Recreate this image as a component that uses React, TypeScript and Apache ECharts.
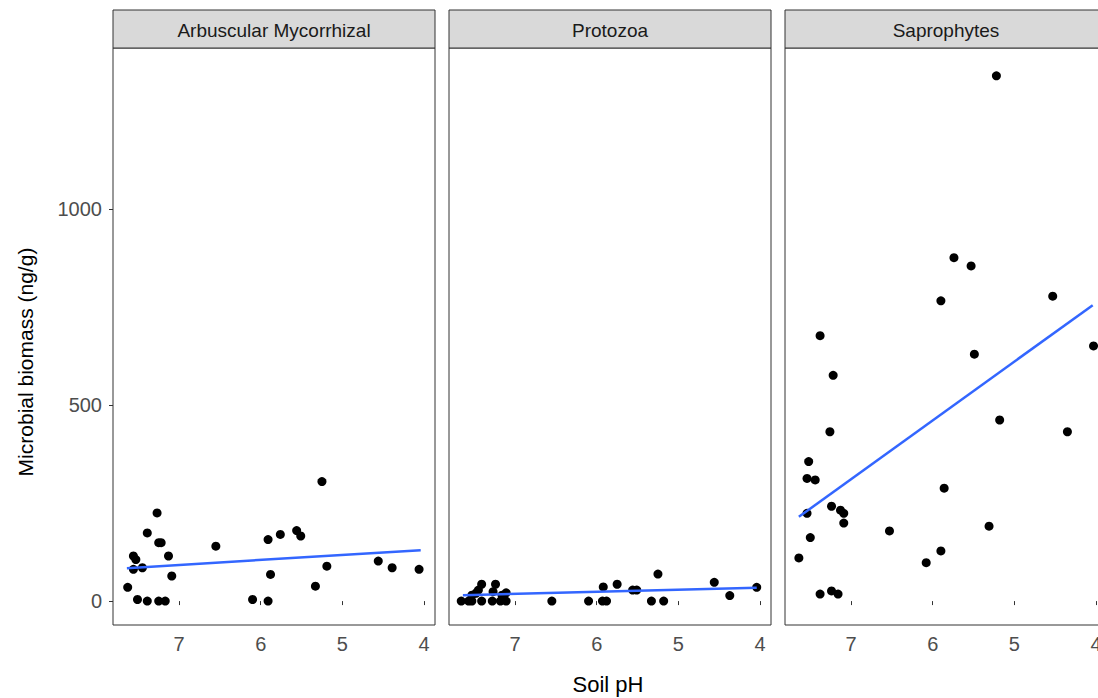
import React, { useEffect, useRef } from "react";
import * as echarts from "echarts";

const panelTitles = ["Arbuscular Mycorrhizal", "Protozoa", "Saprophytes"];

const phAM = [7.63, 7.56, 7.53, 7.56, 7.45, 7.51, 7.39, 7.39, 7.27, 7.25, 7.22, 7.25, 7.17, 7.13, 7.09, 6.55, 6.10, 5.91, 5.88, 5.91, 5.76, 5.56, 5.51, 5.25, 5.33, 5.19, 4.56, 4.39, 4.06];
const amVals = [35, 115, 106, 81, 85, 4, 0, 174, 225, 149, 149, 0, 0, 115, 64, 140, 4, 157, 68, 0, 170, 180, 166, 305, 38, 89, 102, 85, 81];

const phPro = [7.66, 7.57, 7.53, 7.53, 7.48, 7.45, 7.41, 7.41, 7.28, 7.27, 7.24, 7.18, 7.16, 7.11, 7.11, 6.55, 6.10, 5.93, 5.88, 5.92, 5.75, 5.56, 5.51, 5.33, 5.25, 5.18, 4.56, 4.37, 4.04];
const proVals = [0, 0, 0, 15, 20, 28, 43, 0, 0, 24, 43, 0, 15, 21, 0, 0, 0, 0, 0, 36, 43, 28, 28, 0, 69, 0, 48, 14, 35];

const phSap = [7.64, 7.50, 7.54, 7.54, 7.52, 7.44, 7.38, 7.38, 7.26, 7.24, 7.24, 7.22, 7.16, 7.13, 7.09, 7.09, 6.53, 6.08, 5.90, 5.90, 5.86, 5.74, 5.53, 5.49, 5.31, 5.18, 4.53, 4.35, 4.03, 5.22];
const sapVals = [110, 162, 224, 313, 356, 309, 677, 18, 432, 242, 26, 576, 18, 232, 224, 199, 179, 98, 128, 766, 288, 876, 855, 630, 191, 462, 778, 432, 651, 1340];

const trendPh = [7.64, 4.04];
const trendAM = [84, 130];
const trendPro = [15, 34];
const trendSap = [215, 755];

const xTicks = [4, 5, 6, 7];
const yTicks = [0, 500, 1000];

const xTitle = "Soil pH";
const yTitle = "Microbial biomass (ng/g)";

export default function App() {
  const ref = useRef<HTMLDivElement>(null);
  useEffect(() => {
    if (!ref.current) return;
    const chart = echarts.init(ref.current, undefined, { renderer: "svg" });
    const font = "Liberation Sans, Arial, sans-serif";
    const lefts = [113, 449, 785];
    const pw = 322;
    const top = 48;
    const ph = 577;
    const sets = [
      { x: phAM, y: amVals, t: trendAM },
      { x: phPro, y: proVals, t: trendPro },
      { x: phSap, y: sapVals, t: trendSap },
    ];
    const grids = lefts.map((l) => ({
      left: l,
      top,
      width: pw,
      height: ph,
      show: true,
      borderColor: "#333333",
      borderWidth: 1,
      backgroundColor: "#ffffff",
      containLabel: false,
      outerBoundsMode: "none",
    }));
    const xAxes = lefts.map((_, i) => ({
      type: "value",
      gridIndex: i,
      inverse: true,
      min: 3.865,
      max: 7.81,
      splitLine: { show: false },
      axisLine: { show: false },
      axisTick: { show: true, length: 4, lineStyle: { color: "#333333" }, customValues: xTicks },
      axisLabel: { show: true, color: "#4D4D4D", fontSize: 20, fontFamily: font, margin: 9, customValues: xTicks },
    }));
    const yAxes = lefts.map((_, i) => ({
      type: "value",
      gridIndex: i,
      min: -61,
      max: 1411,
      splitLine: { show: false },
      axisLine: { show: false },
      axisTick: { show: i === 0, length: 4, lineStyle: { color: "#333333" }, customValues: yTicks },
      axisLabel: {
        show: i === 0,
        color: "#4D4D4D",
        fontSize: 20,
        fontFamily: font,
        margin: 11,
        customValues: yTicks,
        formatter: (v: number) => String(v),
      },
    }));
    const series: any[] = [];
    sets.forEach((s, i) => {
      series.push({
        type: "scatter",
        xAxisIndex: i,
        yAxisIndex: i,
        symbolSize: 9,
        itemStyle: { color: "#000000", opacity: 1 },
        data: s.x.map((v, k) => [v, s.y[k]]),
        z: 3,
      });
      series.push({
        type: "line",
        xAxisIndex: i,
        yAxisIndex: i,
        symbol: "none",
        lineStyle: { color: "#3366FF", width: 2.5 },
        data: trendPh.map((v, k) => [v, s.t[k]]),
        z: 4,
      });
    });
    const graphics: any[] = [];
    lefts.forEach((l, i) => {
      graphics.push({
        type: "rect",
        shape: { x: l, y: 10, width: pw, height: 38 },
        style: { fill: "#D9D9D9", stroke: "#333333", lineWidth: 1 },
      });
      graphics.push({
        type: "text",
        x: l + pw / 2,
        y: 30,
        style: {
          text: panelTitles[i],
          fill: "#1A1A1A",
          fontSize: 19,
          fontFamily: font,
          align: "center",
          verticalAlign: "middle",
        },
      });
    });
    graphics.push({
      type: "text",
      x: 608,
      y: 684,
      style: { text: xTitle, fill: "#000000", fontSize: 22, fontFamily: font, align: "center", verticalAlign: "middle" },
    });
    graphics.push({
      type: "text",
      x: 25,
      y: 362,
      rotation: Math.PI / 2,
      style: { text: yTitle, fill: "#000000", fontSize: 21, fontFamily: font, align: "center", verticalAlign: "middle" },
    });
    chart.setOption({
      animation: false,
      backgroundColor: "#ffffff",
      grid: grids,
      xAxis: xAxes,
      yAxis: yAxes,
      series,
      graphic: graphics,
    });
    return () => chart.dispose();
  }, []);
  return (
    <div style={{ position: "absolute", left: 0, top: 0, width: 1098, height: 698, overflow: "hidden" }}>
      <div ref={ref} style={{ width: 1120, height: 698 }} />
    </div>
  );
}
